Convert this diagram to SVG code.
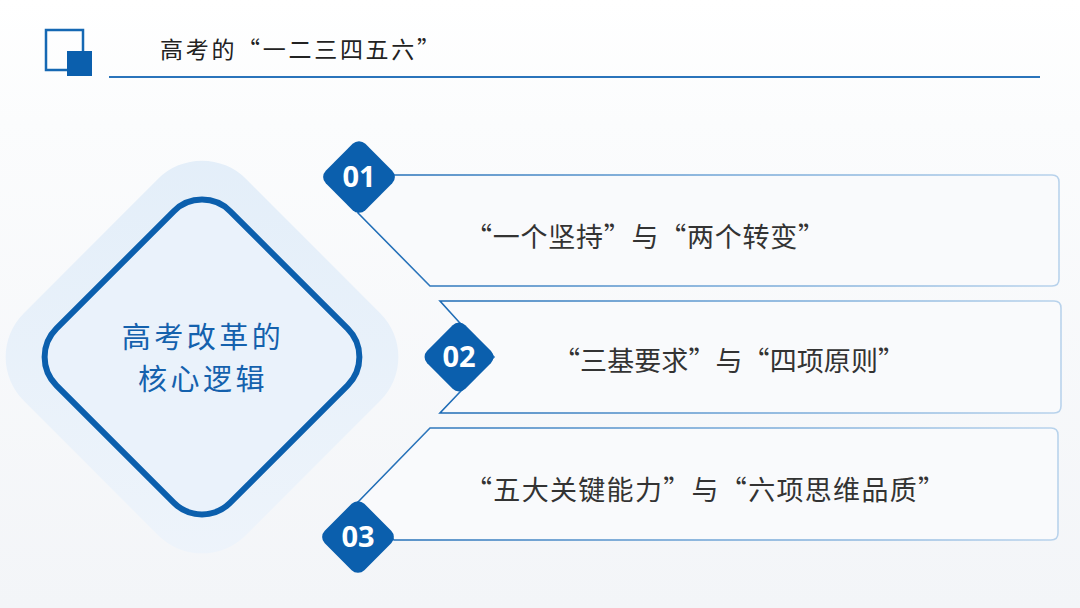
<svg xmlns="http://www.w3.org/2000/svg" width="1080" height="608" viewBox="0 0 1080 608">
<defs>
<linearGradient id="bg" x1="0" y1="0" x2="0" y2="1">
<stop offset="0" stop-color="#ffffff"/>
<stop offset="0.2" stop-color="#fbfcfd"/>
<stop offset="1" stop-color="#f3f5f8"/>
</linearGradient>
<linearGradient id="edge" x1="0" y1="0" x2="1" y2="0">
<stop offset="0" stop-color="#1d6bb5"/>
<stop offset="0.5" stop-color="#6fa4d6"/>
<stop offset="1" stop-color="#b9d3ec"/>
</linearGradient>
<linearGradient id="halo" x1="0" y1="0" x2="1" y2="1">
<stop offset="0" stop-color="#e3eef9"/>
<stop offset="1" stop-color="#eef4fb"/>
</linearGradient>
<style>
.panel{fill:#f9fafc;stroke:url(#edge);stroke-width:1.6}
.badge{fill:#0b5fad}
.num{font-family:"Open Sans","DejaVu Sans",sans-serif;font-weight:700;font-size:29px;fill:#ffffff;text-anchor:middle}
.lbl{font-family:"Noto Sans CJK SC",sans-serif;font-size:27px;fill:#333333;text-anchor:middle}
.core{font-family:"Noto Sans CJK SC",sans-serif;font-size:29px;letter-spacing:3.5px;fill:#1461ad;text-anchor:middle}
</style>
</defs>
<rect width="1080" height="608" fill="url(#bg)"/>

<g id="header">
<rect x="46" y="30" width="37" height="40" fill="none" stroke="#1568b3" stroke-width="2.5"/>
<rect x="67" y="51" width="25" height="25" fill="#0b5fad"/>
<line x1="109" y1="77" x2="1040" y2="77" stroke="#2a74bb" stroke-width="2"/>
<text x="160" y="58" font-family="Noto Sans CJK SC,sans-serif" font-size="23" fill="#222222" textLength="280" lengthAdjust="spacing">高考的“一二三四五六”</text>
</g>

<g id="core">
<rect x="-157" y="-157" width="314" height="314" rx="62" fill="url(#halo)" transform="translate(202,357) rotate(45)"/>
<rect x="-123" y="-123" width="246" height="246" rx="40" fill="#eaf2fb" stroke="#0b5fad" stroke-width="6" transform="translate(202,357) rotate(45)"/>
<text class="core" x="203" y="348">高考改革的</text>
<text class="core" x="203" y="390">核心逻辑</text>
</g>

<g id="connectors">
<path class="panel" d="M359,177 L395,175 H1052 Q1059,175 1059,182 V279 Q1059,286 1052,286 H430 L358,213 Z"/>
<path class="panel" d="M440,301 H1054 Q1061,301 1061,308 V406 Q1061,413 1054,413 H440 L459,393 L494,357 L459,322 Z"/>
<path class="panel" d="M358,502 L430,428 H1051 Q1058,428 1058,435 V533 Q1058,540 1051,540 H394 Z"/>
</g>

<g id="item1">
<rect x="-28" y="-28" width="56" height="56" rx="9" class="badge" transform="translate(359,177) rotate(45)"/>
<text class="num" x="359" y="187">01</text>
<text class="lbl" x="645" y="247" textLength="360" lengthAdjust="spacing">“一个坚持”与“两个转变”</text>
</g>

<g id="item2">
<rect x="-27" y="-27" width="54" height="54" rx="9" class="badge" transform="translate(459,357) rotate(45)"/>
<text class="num" x="459" y="367">02</text>
<text class="lbl" x="729" y="371" textLength="352" lengthAdjust="spacing">“三基要求”与“四项原则”</text>
</g>

<g id="item3">
<rect x="-28" y="-28" width="56" height="56" rx="9" class="badge" transform="translate(358,537) rotate(45)"/>
<text class="num" x="358" y="547">03</text>
<text class="lbl" x="705" y="500" textLength="480" lengthAdjust="spacing">“五大关键能力”与“六项思维品质”</text>
</g>
</svg>
